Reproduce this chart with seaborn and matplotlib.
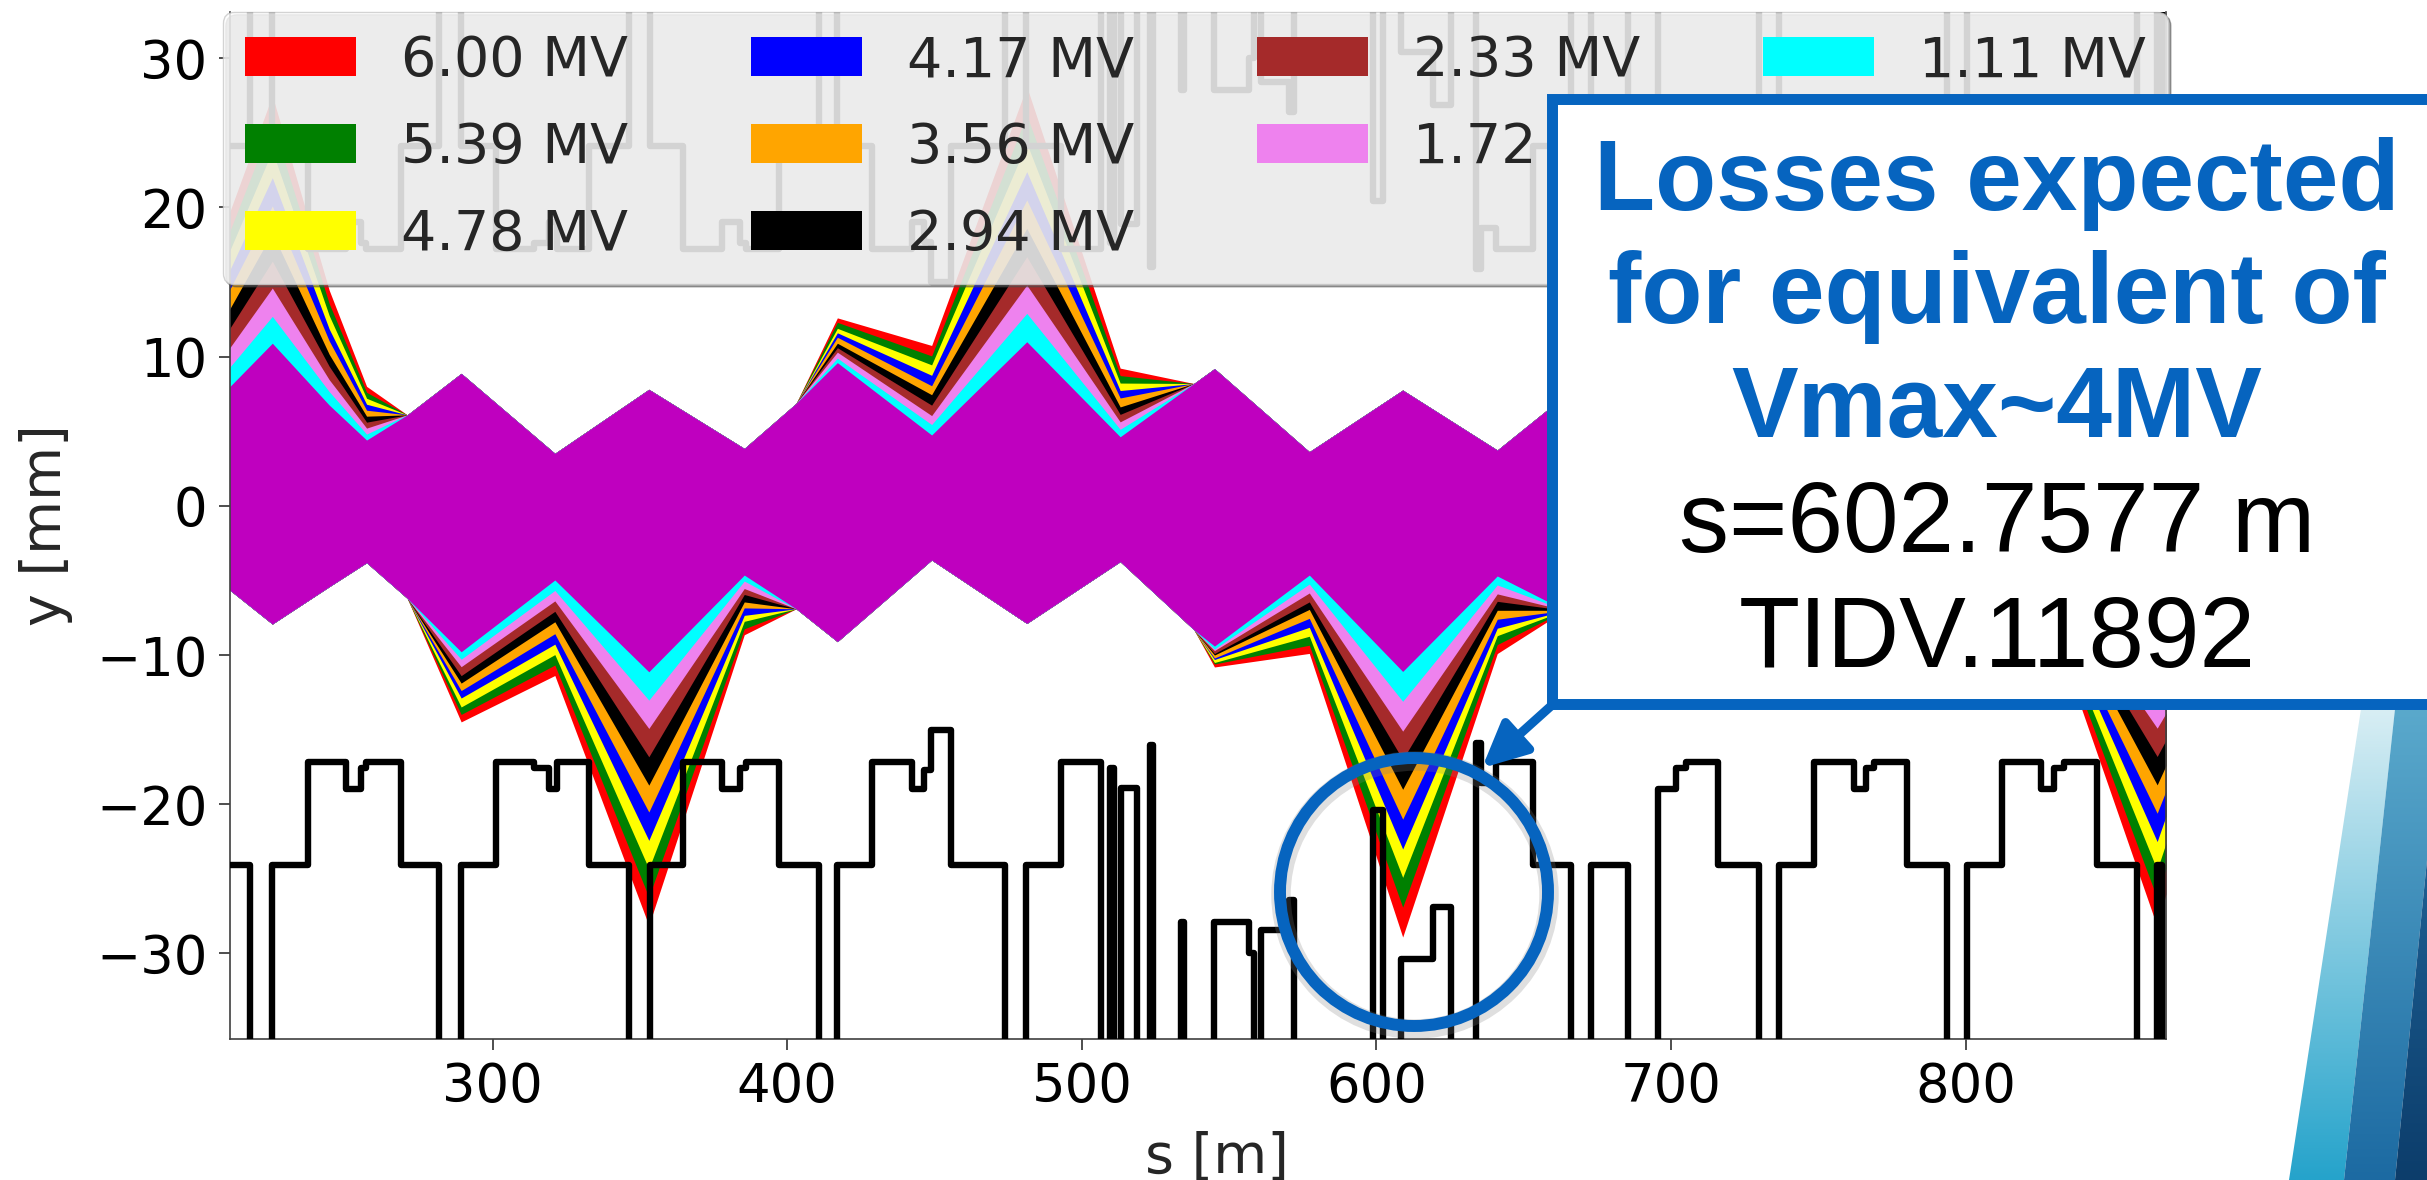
import numpy as np
import matplotlib
matplotlib.use("Agg")
import matplotlib.pyplot as plt
import matplotlib.patches as mpatches
from matplotlib.colors import LinearSegmentedColormap
import seaborn as sns

# ---------------------------------------------------------------- data
# longitudinal positions of the envelope break points [m]
s_env = [210.7, 225.2, 244.5, 257.2, 271.0, 289.3, 321.1, 353.0, 385.4, 403.0,
         417.0, 449.0, 481.3, 513.0, 538.0, 545.0, 577.2, 608.9, 641.0, 664.0,
         673.0, 705.0, 737.0, 769.0, 795.0, 801.0, 833.0, 865.0, 868.0]

# beam envelope of the lowest voltage (0.50 MV) [mm]
env_upper = [7.98, 10.9, 6.76, 4.41, 6.1, 8.88, 3.52, 7.81, 3.85, 6.87,
             9.6, 4.75, 11.0, 4.63, 8.2, 9.2, 3.63, 7.76, 3.74, 7.4,
             9.0, 3.7, 10.5, 4.2, 7.8, 8.5, 3.6, 8.0, 7.5]
env_lower = [-5.64, -7.92, -5.42, -3.81, -6.2, -9.78, -4.97, -11.12, -4.64, -6.9,
             -9.1, -3.63, -7.88, -3.74, -8.3, -9.4, -4.64, -11.1, -4.7, -7.0,
             -8.0, -3.7, -9.5, -4.0, -7.3, -8.0, -4.5, -11.1, -10.5]

# dispersive excursion of each voltage relative to the 0.50 MV envelope [mm]
# (positive: upper edge grows, negative: lower edge grows)
shift_600 = [11.7, 16.6, 7.7, 3.6, 0, -4.7, -6.4, -17.0, -4.0, 0, 3.0, 6.0, 17.1, 4.6, 0,
             -1.4, -5.25, -17.8, -5.2, 0, 1.4, 5.5, 17.0, 5.0, 0, -1.4, -5.5, -17.1, -15.5]
shift_539 = [10.4, 14.8, 6.8, 3.2, 0, -4.2, -5.7, -15.1, -3.6, 0, 2.7, 5.3, 15.2, 4.1, 0,
             -1.2, -4.7, -15.8, -4.6, 0, 1.2, 4.9, 15.1, 4.4, 0, -1.2, -4.9, -15.2, -13.8]
shift_478 = [9.1, 12.9, 6.0, 2.8, 0, -3.7, -5.0, -13.2, -3.1, 0, 2.3, 4.7, 13.3, 3.6, 0,
             -1.1, -4.1, -13.8, -4.0, 0, 1.1, 4.3, 13.2, 3.9, 0, -1.1, -4.3, -13.3, -12.1]
shift_417 = [7.8, 11.1, 5.1, 2.4, 0, -3.1, -4.3, -11.3, -2.7, 0, 2.0, 4.0, 11.4, 3.1, 0,
             -0.9, -3.5, -11.9, -3.5, 0, 0.9, 3.7, 11.3, 3.3, 0, -0.9, -3.7, -11.4, -10.3]
shift_356 = [6.5, 9.2, 4.3, 2.0, 0, -2.6, -3.6, -9.4, -2.2, 0, 1.7, 3.3, 9.5, 2.6, 0,
             -0.8, -2.9, -9.9, -2.9, 0, 0.8, 3.1, 9.4, 2.8, 0, -0.8, -3.1, -9.5, -8.6]
shift_294 = [5.2, 7.4, 3.4, 1.6, 0, -2.1, -2.8, -7.6, -1.8, 0, 1.3, 2.7, 7.6, 2.0, 0,
             -0.6, -2.3, -7.9, -2.3, 0, 0.6, 2.4, 7.6, 2.2, 0, -0.6, -2.4, -7.6, -6.9]
shift_233 = [3.9, 5.5, 2.6, 1.2, 0, -1.6, -2.1, -5.7, -1.3, 0, 1.0, 2.0, 5.7, 1.5, 0,
             -0.5, -1.8, -5.9, -1.7, 0, 0.5, 1.8, 5.7, 1.7, 0, -0.5, -1.8, -5.7, -5.2]
shift_172 = [2.6, 3.7, 1.7, 0.8, 0, -1.0, -1.4, -3.8, -0.9, 0, 0.7, 1.3, 3.8, 1.0, 0,
             -0.3, -1.2, -4.0, -1.2, 0, 0.3, 1.2, 3.8, 1.1, 0, -0.3, -1.2, -3.8, -3.4]
shift_111 = [1.3, 1.8, 0.9, 0.4, 0, -0.5, -0.7, -1.9, -0.4, 0, 0.3, 0.7, 1.9, 0.5, 0,
             -0.2, -0.6, -2.0, -0.6, 0, 0.2, 0.6, 1.9, 0.6, 0, -0.2, -0.6, -1.9, -1.7]

voltage_labels = ["6.00 MV", "5.39 MV", "4.78 MV", "4.17 MV", "3.56 MV",
                  "2.94 MV", "2.33 MV", "1.72 MV", "1.11 MV", "0.50 MV"]
band_colors = ["#ff0000", "#008000", "#ffff00", "#0000ff", "#ffa500",
               "#000000", "#a52a2a", "#ee82ee", "#00ffff", "#bf00bf"]
shifts = [shift_600, shift_539, shift_478, shift_417, shift_356,
          shift_294, shift_233, shift_172, shift_111]

# vertical aperture (lower side), step function: value holds from s until next s
APT_OUT = -60.0
apt_s = [210.7, 217.5, 225.2, 237.3, 250.1, 255.2, 256.9, 268.8, 281.8, 289.2,
         301.1, 314.1, 319.2, 322.0, 332.7, 346.3, 353.3, 364.7, 378.0, 384.0,
         386.0, 397.3, 410.6, 417.0, 428.9, 442.3, 446.5, 448.8, 455.6, 474.0,
         481.0, 492.9, 506.5, 509.5, 510.8, 513.3, 518.6, 523.1, 524.2, 533.7,
         534.6, 545.0, 556.6, 558.5, 560.8, 570.4, 572.1, 598.7, 602.1, 608.4,
         619.1, 625.3, 633.8, 635.5, 640.6, 653.0, 666.1, 672.9, 685.3, 695.5,
         701.7, 705.1, 716.0, 729.8, 736.8, 748.5, 762.1, 766.0, 768.8, 780.2,
         793.8, 800.6, 812.5, 825.5, 830.0, 833.3, 844.7, 858.3, 865.1, 866.8, 868.0]
apt_y = [-24.1, APT_OUT, -24.1, -17.2, -19.0, -17.6, -17.2, -24.1, APT_OUT, -24.1,
         -17.2, -17.6, -19.0, -17.2, -24.1, APT_OUT, -24.1, -17.2, -19.0, -17.6,
         -17.2, -24.1, APT_OUT, -24.1, -17.2, -19.0, -17.7, -15.0, -24.1, APT_OUT,
         -24.1, -17.2, APT_OUT, -17.6, APT_OUT, -18.9, APT_OUT, -16.0, APT_OUT, -27.9,
         APT_OUT, -27.9, -30.0, APT_OUT, -28.4, -26.4, APT_OUT, -20.4, APT_OUT, -30.4,
         -26.9, APT_OUT, -15.9, -18.6, -17.2, -24.1, APT_OUT, -24.1, APT_OUT, -19.0,
         -17.6, -17.2, -24.1, APT_OUT, -24.1, -17.2, -19.0, -17.6, -17.2, -24.1,
         APT_OUT, -24.1, -17.2, -19.0, -17.6, -17.2, -24.1, APT_OUT, -24.1, APT_OUT, APT_OUT]

x_ticks = [300, 400, 500, 600, 700, 800]
y_ticks = [-30, -20, -10, 0, 10, 20, 30]

note_lines = ["Losses expected", "for equivalent of", "Vmax~4MV",
              "s=602.7577 m", "TIDV.11892"]

# ---------------------------------------------------------------- style
sns.set_theme(style="ticks")
plt.rcParams["font.family"] = ["DejaVu Sans"]

W, H = 2427, 1180
fig = plt.figure(figsize=(W / 100, H / 100), dpi=100)
fig.patch.set_facecolor("white")

ax_left, ax_right, ax_bottom, ax_top = 229.6, 2166.0, 1038.5, 12.0
ax_w = ax_right - ax_left
ax = fig.add_axes([ax_left / W, (H - ax_bottom) / H,
                   ax_w / W, (ax_bottom - ax_top) / H])
ax.set_facecolor("white")

# ---------------------------------------------------------------- envelopes
s_arr = np.array(s_env)
up0 = np.array(env_upper)
lo0 = np.array(env_lower)
for lab, col, sh in zip(voltage_labels[:-1], band_colors[:-1], shifts):
    sh = np.array(sh)
    ax.fill_between(s_arr, lo0 + np.minimum(sh, 0), up0 + np.maximum(sh, 0),
                    color=col, lw=0, label=lab, zorder=1)
ax.fill_between(s_arr, lo0, up0, color=band_colors[-1], lw=0,
                label=voltage_labels[-1], zorder=1)

# ---------------------------------------------------------------- aperture
apt_s_arr = np.array(apt_s)
apt_y_arr = np.array(apt_y)
sns.lineplot(x=apt_s_arr, y=apt_y_arr, drawstyle="steps-post", sort=False,
             estimator=None, color="black", lw=4.6, ax=ax, zorder=3)
sns.lineplot(x=apt_s_arr, y=-apt_y_arr, drawstyle="steps-post", sort=False,
             estimator=None, color="black", lw=4.6, ax=ax, zorder=3)

ax.set_xlim(210.7, 868.0)
ax.set_ylim(-35.7, 33.1)
ax.set_xticks(x_ticks)
ax.set_yticks(y_ticks)
ax.tick_params(axis="both", labelsize=38, length=8, width=1.3, pad=8,
               color="0.25", labelcolor="black")
for side in ["left", "bottom", "right"]:
    ax.spines[side].set_linewidth(1.2)
    ax.spines[side].set_color("0.25")
ax.spines["top"].set_visible(False)
ax.set_xlabel("s [m]", fontsize=40)
ax.set_ylabel("y [mm]", fontsize=40)
ax.xaxis.set_label_coords(0.51, -0.09)
ax.yaxis.set_label_coords(-0.081, 0.5)

leg_x0 = (223.0 - ax_left) / ax_w
leg_w = (2168.0 - 223.0) / ax_w
leg = ax.legend(ncol=4, loc="upper left", bbox_to_anchor=(leg_x0, 0.0, leg_w, 1.0),
                mode="expand", borderaxespad=0, fontsize=40, frameon=True,
                fancybox=True, shadow=True, framealpha=0.8, facecolor="white",
                edgecolor="#c8c8c8", labelspacing=0.59, columnspacing=2.0,
                handlelength=2.0, handletextpad=0.8)

# ---------------------------------------------------------------- callout layer (pixel coordinates)
ov = fig.add_axes([0, 0, 1, 1], zorder=5)
ov.set_xlim(0, W)
ov.set_ylim(H, 0)
ov.axis("off")

blue = "#0664BF"


def gradient_polygon(verts, c_top, c_bot):
    poly = mpatches.Polygon(verts, closed=True, facecolor="none", edgecolor="none")
    ov.add_patch(poly)
    xs = [v[0] for v in verts]
    ys = [v[1] for v in verts]
    cmap = LinearSegmentedColormap.from_list("band", [c_top, c_bot])
    grad = np.linspace(0, 1, 256).reshape(-1, 1)
    im = ov.imshow(grad, cmap=cmap, extent=(min(xs), max(xs), max(ys), min(ys)),
                   origin="upper", aspect="auto", interpolation="bilinear", zorder=1)
    im.set_clip_path(poly)


gradient_polygon([(2361, 709), (2395, 709), (2344, 1180), (2289, 1180)], "#d8eef4", "#25a3cb")
gradient_polygon([(2395, 709), (2427, 709), (2427, 860), (2395, 1180), (2344, 1180)],
                 "#5aa9cc", "#1c6aa2")
gradient_polygon([(2427, 860), (2427, 1180), (2395, 1180)], "#1d5f93", "#0c3d6b")

# note box
ov.add_patch(mpatches.Rectangle((1551.5, 98.5), 891, 605, facecolor="white",
                                edgecolor=blue, lw=7.9, zorder=3))
baselines = [210, 323, 437, 552, 667]
for i, (txt, yb) in enumerate(zip(note_lines, baselines)):
    bold = i < 3
    ov.text(1997, yb, txt, ha="center", va="baseline", fontsize=72,
            fontweight="bold" if bold else "normal",
            color=blue if bold else "black",
            family=["Liberation Sans", "DejaVu Sans"], zorder=4)

# arrow from the box to the aperture
ov.add_patch(mpatches.FancyArrowPatch((1551, 706), (1482, 768),
                                      arrowstyle="-|>,head_length=27,head_width=13",
                                      mutation_scale=1, lw=6.5, color=blue,
                                      shrinkA=0, shrinkB=0, zorder=4))

# highlight circle with soft shadow
ov.add_patch(mpatches.Circle((1415, 895), 134, fill=False, ec="0.5", lw=14,
                             alpha=0.25, zorder=3))
ov.add_patch(mpatches.Circle((1414, 892), 134, fill=False, ec=blue, lw=8.6, zorder=4))

ov.set_xlim(0, W)
ov.set_ylim(H, 0)

fig.savefig("out.png", dpi=100, facecolor="white")
